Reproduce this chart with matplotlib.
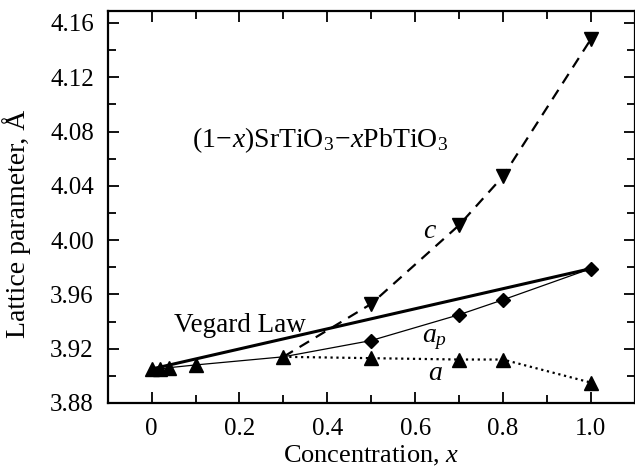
import numpy as np
import matplotlib
matplotlib.use('Agg')
import matplotlib.pyplot as plt
from matplotlib.ticker import MultipleLocator, FixedLocator

plt.rcParams['font.family'] = ['Liberation Serif', 'DejaVu Serif']
plt.rcParams['mathtext.fontset'] = 'custom'
plt.rcParams['mathtext.rm'] = 'Liberation Serif'
plt.rcParams['mathtext.it'] = 'Liberation Serif:italic'

# cubic phase (x <= 0.3)
x_cub = [0, 0.02, 0.04, 0.1, 0.3]
a_cub = [3.905, 3.905, 3.906, 3.908, 3.914]

# tetragonal phase
x_tet = [0.5, 0.7, 0.8, 1.0]
c_tet = [3.953, 4.011, 4.047, 4.148]
a_tet = [3.913, 3.912, 3.912, 3.895]
ap_tet = [3.926, 3.945, 3.956, 3.979]

# Vegard law end points
x_veg = [0, 1.0]
a_veg = [a_cub[0], ap_tet[-1]]

xticks = [0, 0.2, 0.4, 0.6, 0.8, 1.0]
xticklabels = ['0', '0.2', '0.4', '0.6', '0.8', '1.0']

fig = plt.figure(figsize=(6.35, 4.68), dpi=100)
ax = fig.add_axes([0.1696, 0.139, 0.830, 0.838])

ax.plot(x_veg, a_veg, '-', color='black', lw=2.2)
ax.plot(x_cub + x_tet, a_cub + ap_tet, '-', color='black', lw=0.9)
ax.plot([x_cub[-1]] + x_tet, [a_cub[-1]] + c_tet, '--', color='black', lw=1.6,
        dashes=(5, 3.5))
ax.plot([x_cub[-1]] + x_tet, [a_cub[-1]] + a_tet, ':', color='black', lw=1.6)

ax.plot(x_cub, a_cub, '^', color='black', ms=10, mec='black')
ax.plot(x_tet, a_tet, '^', color='black', ms=10, mec='black')
ax.plot(x_tet, c_tet, 'v', color='black', ms=10, mec='black')
ax.plot(x_tet, ap_tet, 'D', color='black', ms=7.5, mec='black')

ax.set_xlim(-0.1, 1.1)
ax.set_ylim(3.88, 4.169)
ax.xaxis.set_major_locator(FixedLocator(xticks))
ax.set_xticklabels(xticklabels)
ax.xaxis.set_minor_locator(MultipleLocator(0.1))
ax.yaxis.set_major_locator(MultipleLocator(0.04))
ax.yaxis.set_minor_locator(MultipleLocator(0.02))
ax.yaxis.set_major_formatter(matplotlib.ticker.FormatStrFormatter('%.2f'))

ax.tick_params(which='both', direction='in', top=True, right=True, labelsize=18,
               width=1.3)
ax.tick_params(axis='x', pad=11)
ax.tick_params(axis='y', pad=10)
ax.tick_params(which='major', length=8)
ax.tick_params(which='minor', length=6)
for s in ax.spines.values():
    s.set_linewidth(1.6)

ax.set_xlabel(r'Concentration, $x$', fontsize=19, labelpad=3)
ax.set_ylabel('Lattice parameter, Å', fontsize=20)
ax.yaxis.set_label_coords(-0.146, 0.457)

ax.text(0.093, 4.074, r'$(1\!-\!x)\mathrm{SrTiO_3}\!-\!x\mathrm{PbTiO_3}$',
        fontsize=20, va='center', ha='left')
ax.text(0.052, 3.937, 'Vegard Law', fontsize=19.5, va='center', ha='left')
ax.text(0.634, 4.006, r'$c$', fontsize=20, va='center', ha='center')
ax.text(0.645, 3.927, r'$a_p$', fontsize=20, va='center', ha='center')
ax.text(0.647, 3.902, r'$a$', fontsize=20, va='center', ha='center')

fig.savefig('out.png', dpi=100)
